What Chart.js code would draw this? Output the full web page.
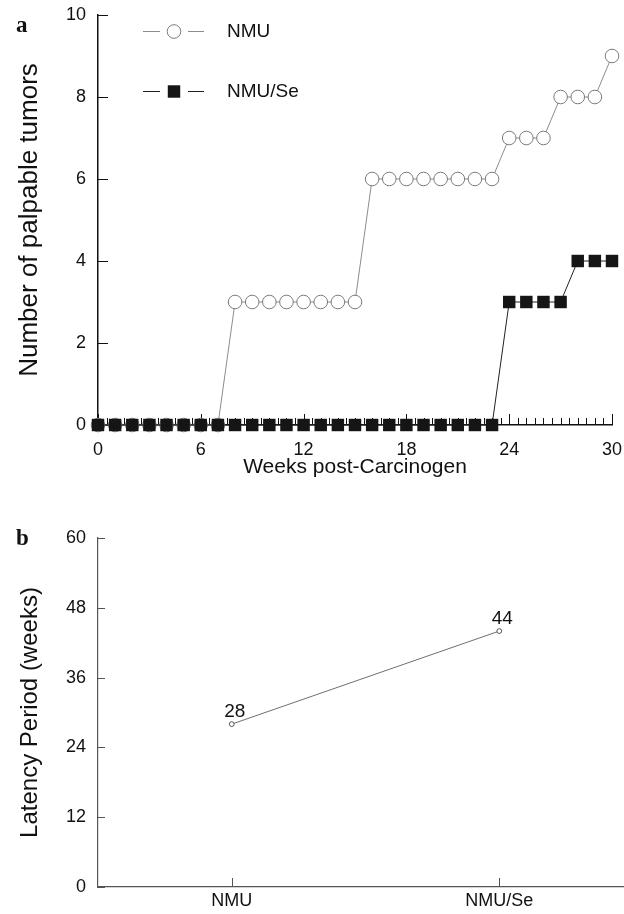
<!DOCTYPE html>
<html>
<head>
<meta charset="utf-8">
<script src="https://cdn.jsdelivr.net/npm/chart.js@4.4.0/dist/chart.umd.min.js"></script>
<style>
  html, body { margin: 0; padding: 0; background: #fff; overflow: hidden; width: 624px; height: 914px; }
  .panel { position: absolute; left: 0; }
  #wrapA { top: 0; }
  #wrapB { top: 485px; }
</style>
</head>
<body>
<div class="panel" id="wrapA"><canvas id="chartA" width="624" height="485"></canvas></div>
<div class="panel" id="wrapB"><canvas id="chartB" width="638" height="429"></canvas></div>
<script>
// panel a - palpable tumors per week
const weeks = [0, 1, 2, 3, 4, 5, 6, 7, 8, 9, 10, 11, 12, 13, 14, 15, 16, 17, 18, 19, 20, 21, 22, 23, 24, 25, 26, 27, 28, 29, 30];
const nmuTumors = [0, 0, 0, 0, 0, 0, 0, 0, 3, 3, 3, 3, 3, 3, 3, 3, 6, 6, 6, 6, 6, 6, 6, 6, 7, 7, 7, 8, 8, 8, 9];
const nmuSeTumors = [0, 0, 0, 0, 0, 0, 0, 0, 0, 0, 0, 0, 0, 0, 0, 0, 0, 0, 0, 0, 0, 0, 0, 0, 3, 3, 3, 3, 4, 4, 4];
const weekLabels = [0, 6, 12, 18, 24, 30];
const tumorTicks = [0, 2, 4, 6, 8, 10];

// panel b - latency period
const groups = ["NMU", "NMU/Se"];
const latencyWeeks = [28, 44];
const latencyTicks = [0, 12, 24, 36, 48, 60];

const FONT = "'Liberation Sans', Arial, sans-serif";
Chart.defaults.font.family = FONT;
Chart.defaults.color = "#111";
Chart.defaults.animation = false;

// ticks that point into the plot, drawn under the markers
const inwardTicks = {
  id: "inwardTicks",
  beforeDatasetsDraw(chart, args, opts) {
    const ctx = chart.ctx;
    const xs = chart.scales.x, ys = chart.scales.y;
    ctx.save();
    ctx.strokeStyle = opts.color;
    ctx.lineWidth = 1;
    ctx.beginPath();
    xs.ticks.forEach((t, i) => {
      const px = Math.round(xs.getPixelForTick(i)) + 0.5;
      ctx.moveTo(px, xs.top);
      ctx.lineTo(px, xs.top - opts.xLen(t.value));
    });
    ys.ticks.forEach((t, i) => {
      const py = Math.round(ys.getPixelForTick(i)) + 0.5;
      ctx.moveTo(ys.right, py);
      ctx.lineTo(ys.right + opts.yLen, py);
    });
    ctx.stroke();
    ctx.restore();
  }
};

const panelLetter = {
  id: "panelLetter",
  afterDraw(chart, args, opts) {
    const ctx = chart.ctx;
    ctx.save();
    ctx.font = "bold 23px 'Liberation Serif', serif";
    ctx.fillStyle = "#111";
    ctx.textBaseline = "alphabetic";
    ctx.fillText(opts.text, opts.x, opts.y);
    ctx.restore();
  }
};

// legend of panel a: line - marker - line, then the name
function drawLegendMarkers(chart) {
  const ctx = chart.ctx;
  const rows = [31.5, 91.5];
  chart.data.datasets.forEach((ds, i) => {
    const y = rows[i];
    ctx.save();
    ctx.strokeStyle = ds.borderColor;
    ctx.lineWidth = 1;
    ctx.beginPath();
    ctx.moveTo(143, y); ctx.lineTo(160, y);
    ctx.moveTo(188, y); ctx.lineTo(204, y);
    ctx.stroke();
    ctx.fillStyle = ds.pointBackgroundColor;
    ctx.strokeStyle = ds.pointBorderColor;
    ctx.lineWidth = ds.pointBorderWidth;
    Chart.helpers.drawPoint(ctx, {
      pointStyle: ds.pointStyle,
      radius: ds.pointRadius,
      borderWidth: ds.pointBorderWidth,
      rotation: 0
    }, 174, y);
    ctx.font = "19px " + FONT;
    ctx.fillStyle = "#111";
    ctx.textBaseline = "middle";
    ctx.fillText(ds.label, 227, y);
    ctx.restore();
  });
}

const valueLabels = {
  id: "valueLabels",
  afterDatasetsDraw(chart) {
    const ctx = chart.ctx;
    const meta = chart.getDatasetMeta(0);
    ctx.save();
    ctx.font = "19px " + FONT;
    ctx.fillStyle = "#111";
    ctx.textAlign = "center";
    ctx.textBaseline = "alphabetic";
    meta.data.forEach((pt, i) => {
      ctx.fillText(String(chart.data.datasets[0].data[i]), pt.x + 3, pt.y - 7);
    });
    ctx.restore();
  }
};

const noGrid = { drawOnChartArea: false, drawTicks: false };

new Chart(document.getElementById("chartA"), {
  type: "line",
  data: {
    datasets: [
      {
        label: "NMU",
        data: weeks.map((w, i) => ({ x: w, y: nmuTumors[i] })),
        borderColor: "#8c8c8c",
        borderWidth: 1,
        pointStyle: "circle",
        pointRadius: 6.8,
        pointBackgroundColor: "#fff",
        pointBorderColor: "#7a7a7a",
        pointBorderWidth: 1,
        order: 1,
        clip: false
      },
      {
        label: "NMU/Se",
        data: weeks.map((w, i) => ({ x: w, y: nmuSeTumors[i] })),
        borderColor: "#222",
        borderWidth: 1,
        pointStyle: "rect",
        pointRadius: 8.8,
        pointBackgroundColor: "#151515",
        pointBorderColor: "#151515",
        pointBorderWidth: 0,
        order: 0,
        clip: false
      }
    ]
  },
  options: {
    responsive: false,
    layout: { padding: { top: 15, right: 12, left: 0, bottom: 0 } },
    plugins: {
      legend: { display: false },
      tooltip: { enabled: false },
      inwardTicks: { color: "#111", yLen: 10, xLen: v => (weekLabels.includes(v) ? 11 : 7) },
      panelLetter: { text: "a", x: 16, y: 32 }
    },
    scales: {
      x: {
        type: "linear",
        min: 0,
        max: 30,
        afterFit: s => { s.height = 60; s.paddingLeft = 0; s.paddingRight = 0; },
        afterBuildTicks: s => {
          const t = [];
          for (let v = 0; v <= 30; v += 0.5) t.push({ value: v });
          s.ticks = t;
        },
        ticks: {
          autoSkip: false,
          maxRotation: 0,
          padding: 14,
          font: { size: 18 },
          callback: v => (weekLabels.includes(v) ? String(v) : "")
        },
        grid: noGrid,
        border: { color: "#111", width: 1.5 },
        title: { display: true, text: "Weeks post-Carcinogen", font: { size: 21 }, padding: { top: 0, bottom: 5 } }
      },
      y: {
        min: 0,
        max: 10,
        afterFit: s => { s.width = 98; s.paddingTop = 0; s.paddingBottom = 0; },
        afterBuildTicks: s => { s.ticks = tumorTicks.map(v => ({ value: v })); },
        ticks: { padding: 12, font: { size: 18 } },
        grid: noGrid,
        border: { color: "#111", width: 1.5 },
        title: { display: true, text: "Number of palpable tumors", font: { size: 26 }, padding: { top: 14, bottom: 0 } }
      }
    }
  },
  plugins: [inwardTicks, panelLetter, { id: "legendA", afterDraw: drawLegendMarkers }]
});

new Chart(document.getElementById("chartB"), {
  type: "line",
  data: {
    labels: groups,
    datasets: [{
      label: "Latency",
      data: latencyWeeks,
      borderColor: "#6e6e6e",
      borderWidth: 1,
      pointRadius: 2.4,
      pointBackgroundColor: "#fff",
      pointBorderColor: "#555",
      pointBorderWidth: 1,
      clip: false
    }]
  },
  options: {
    responsive: false,
    layout: { padding: { top: 53, right: 2, left: 0, bottom: 0 } },
    plugins: {
      legend: { display: false },
      tooltip: { enabled: false },
      inwardTicks: { color: "#555", yLen: 7, xLen: () => 9 },
      panelLetter: { text: "b", x: 16, y: 60 }
    },
    scales: {
      x: {
        type: "category",
        offset: true,
        afterFit: s => { s.height = 27; },
        ticks: { padding: 3, font: { size: 18 }, maxRotation: 0 },
        grid: noGrid,
        border: { color: "#555", width: 1.2 }
      },
      y: {
        min: 0,
        max: 60,
        afterFit: s => { s.width = 98; },
        afterBuildTicks: s => { s.ticks = latencyTicks.map(v => ({ value: v })); },
        ticks: { padding: 12, font: { size: 18 } },
        grid: noGrid,
        border: { color: "#555", width: 1.2 },
        title: { display: true, text: "Latency Period (weeks)", font: { size: 24 }, padding: { top: 16, bottom: 0 } }
      }
    }
  },
  plugins: [inwardTicks, panelLetter, valueLabels]
});
</script>
</body>
</html>
